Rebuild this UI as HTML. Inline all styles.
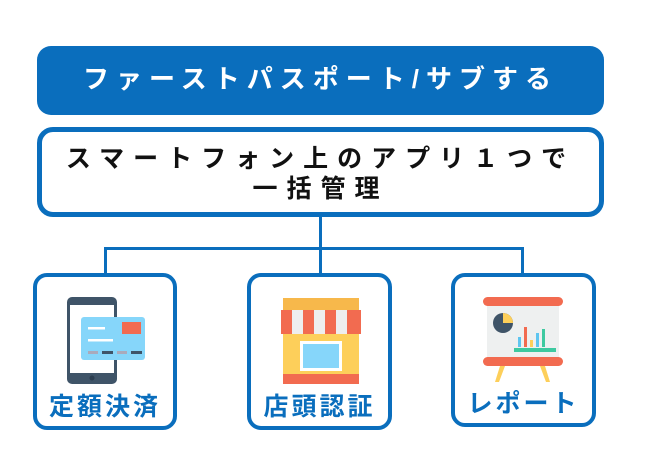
<!DOCTYPE html><html><head><meta charset="utf-8"><style>
body{margin:0;width:650px;height:471px;background:#fff;position:relative;overflow:hidden;font-family:"Liberation Sans","Noto Sans CJK JP",sans-serif}
.a{position:absolute;box-sizing:border-box}
.top{left:37px;top:46px;width:567px;height:69px;background:#0a6ebd;border-radius:14px;color:#fff;font-size:26px;font-weight:bold;text-align:center;line-height:66px;letter-spacing:7px}
.mid{left:37px;top:127px;width:567px;height:90px;border:5px solid #0a6ebd;border-radius:16px;text-align:center;font-size:25px;font-weight:bold;letter-spacing:9px;line-height:30px;padding-top:12px;color:#111}
.b{border:4px solid #0a6ebd;border-radius:14px;top:273px;height:157px}
.lbl{position:absolute;left:0;right:0;bottom:3px;text-align:center;color:#0a6ebd;font-size:25px;font-weight:bold;letter-spacing:3px}
.ln{background:#0a6ebd}
</style></head><body>
<div class="a top">ファーストパスポート/サブする</div>
<div class="a mid">スマートフォン上のアプリ１つで<br>一括管理</div>
<div class="a ln" style="left:319px;top:216px;width:3px;height:34px"></div>
<div class="a ln" style="left:104px;top:247px;width:420px;height:3px"></div>
<div class="a ln" style="left:104px;top:247px;width:3px;height:28px"></div>
<div class="a ln" style="left:319px;top:247px;width:3px;height:28px"></div>
<div class="a ln" style="left:521px;top:247px;width:3px;height:28px"></div>
<div class="a b" style="left:33px;width:144px"><div class="lbl">定額決済</div></div>
<div class="a b" style="left:247px;width:145px"><div class="lbl">店頭認証</div></div>
<div class="a b" style="left:451px;width:145px;height:154px"><div class="lbl">レポート</div></div>
<svg class="a" style="left:0;top:0" width="650" height="471">
<rect x="67" y="297" width="50" height="87" rx="5" fill="#3f5468"/>
<rect x="70" y="305" width="44" height="68" fill="#fff"/>
<circle cx="92" cy="378" r="2.5" fill="#2c3e50"/>
<rect x="81" y="317" width="64" height="43" rx="3" fill="#86d6fa"/>
<rect x="122" y="322" width="19" height="12" fill="#f26b50"/>
<rect x="88" y="327" width="17" height="2.5" fill="#fff"/><rect x="88" y="339" width="25" height="2.5" fill="#fff"/>
<rect x="88" y="351" width="10" height="3" fill="#aab"/><rect x="102" y="351" width="11" height="3" fill="#3f5468"/><rect x="117" y="351" width="10" height="3" fill="#aab"/><rect x="131" y="351" width="11" height="3" fill="#3f5468"/>
<rect x="283" y="298" width="76" height="86" rx="2" fill="#fdcf5a"/>
<rect x="283" y="298" width="76" height="12" fill="#f7b84b"/>
<rect x="283" y="374" width="76" height="10" fill="#f26b50"/>
<g><rect x="281" y="310" width="80" height="24" fill="#f26b50"/>
<rect x="292" y="310" width="11" height="24" fill="#eee"/><rect x="314" y="310" width="11" height="24" fill="#eee"/><rect x="336" y="310" width="11" height="24" fill="#eee"/></g>
<rect x="300" y="341" width="42" height="30" fill="#fff"/><rect x="303" y="344" width="36" height="24" fill="#86d6fa"/>
<rect x="483" y="297" width="80" height="9" rx="4.5" fill="#f26b50"/>
<rect x="487" y="306" width="72" height="51" fill="#eef0f0"/>
<rect x="483" y="357" width="80" height="9" rx="4.5" fill="#f26b50"/>
<path d="M500 366 L495 382 L499 382 L505 366Z M540 366 L546 382 L550 382 L545 366Z" fill="#fdcf5a"/>
<circle cx="503" cy="323" r="10" fill="#3f5468"/><path d="M503 323 L503 313 A10 10 0 0 1 513 323Z" fill="#fdcf5a"/>
<rect x="518" y="337" width="3" height="10" fill="#5ec5f0"/><rect x="524" y="327" width="3" height="20" fill="#f26b50"/><rect x="530" y="340" width="3" height="7" fill="#fdcf5a"/><rect x="536" y="333" width="3" height="14" fill="#5ec5f0"/><rect x="542" y="329" width="3" height="18" fill="#3ec9a0"/>
<rect x="514" y="348" width="42" height="4" fill="#3ec9a0"/>
</svg>
</body></html>
